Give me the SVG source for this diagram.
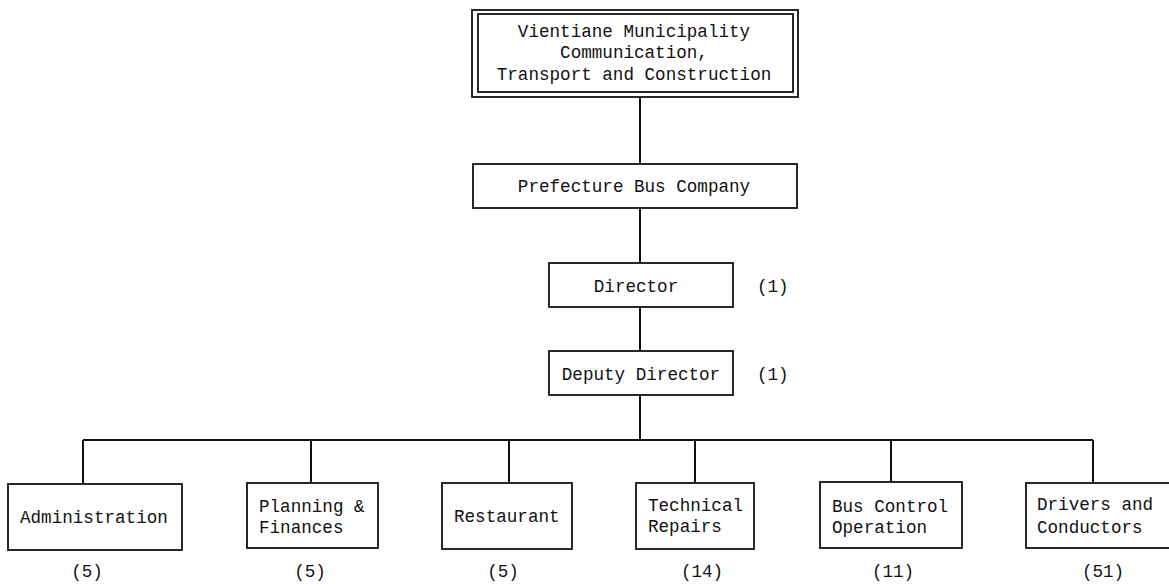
<svg xmlns="http://www.w3.org/2000/svg" width="1169" height="584" viewBox="0 0 1169 584">
<style>
.box{fill:#fff;stroke:#111;stroke-width:1.8}
.t{font-family:"Liberation Mono","Courier New",monospace;font-size:17.6px;fill:#111}
.m{text-anchor:middle}
.c{fill:none;stroke:#111;stroke-width:2}
</style>
<rect width="1169" height="584" fill="#fff"/>
<g id="connectors">
<line class="c" x1="640" y1="97" x2="640" y2="164"/>
<line class="c" x1="640" y1="208" x2="640" y2="263"/>
<line class="c" x1="640" y1="307" x2="640" y2="351"/>
<line class="c" x1="640" y1="395" x2="640" y2="440"/>
<line class="c" x1="83" y1="440" x2="1093" y2="440"/>
<line class="c" x1="83" y1="440" x2="83" y2="484"/>
<line class="c" x1="311" y1="440" x2="311" y2="483"/>
<line class="c" x1="509" y1="440" x2="509" y2="483"/>
<line class="c" x1="695" y1="440" x2="695" y2="483"/>
<line class="c" x1="891" y1="440" x2="891" y2="482"/>
<line class="c" x1="1093" y1="440" x2="1093" y2="483"/>
</g>
<g id="vientiane">
<rect class="box" x="472" y="10" width="326" height="87"/>
<rect class="box" x="478" y="14" width="315" height="78"/>
<text class="t m" x="634" y="37">Vientiane Municipality</text>
<text class="t m" x="634" y="58">Communication,</text>
<text class="t m" x="634" y="80">Transport and Construction</text>
</g>
<g id="prefecture">
<rect class="box" x="473" y="164" width="324" height="44"/>
<text class="t m" x="634" y="192">Prefecture Bus Company</text>
</g>
<g id="director">
<rect class="box" x="549" y="263" width="184" height="44"/>
<text class="t m" x="636" y="292">Director</text>
<text class="t" x="757" y="292">(1)</text>
</g>
<g id="deputy">
<rect class="box" x="549" y="351" width="184" height="44"/>
<text class="t m" x="641" y="380">Deputy Director</text>
<text class="t" x="757" y="380">(1)</text>
</g>
<g id="administration">
<rect class="box" x="8" y="484" width="174" height="66"/>
<text class="t" x="20" y="523">Administration</text>
<text class="t m" x="87" y="577">(5)</text>
</g>
<g id="planning">
<rect class="box" x="247" y="483" width="131" height="65"/>
<text class="t" x="259" y="512">Planning &amp;</text>
<text class="t" x="259" y="533">Finances</text>
<text class="t m" x="310" y="577">(5)</text>
</g>
<g id="restaurant">
<rect class="box" x="442" y="483" width="130" height="66"/>
<text class="t" x="454" y="522">Restaurant</text>
<text class="t m" x="503" y="577">(5)</text>
</g>
<g id="technical">
<rect class="box" x="636" y="483" width="118" height="66"/>
<text class="t" x="648" y="511">Technical</text>
<text class="t" x="648" y="532">Repairs</text>
<text class="t m" x="702" y="577">(14)</text>
</g>
<g id="buscontrol">
<rect class="box" x="820" y="482" width="142" height="66"/>
<text class="t" x="832" y="512">Bus Control</text>
<text class="t" x="832" y="533">Operation</text>
<text class="t m" x="893" y="577">(11)</text>
</g>
<g id="drivers">
<rect class="box" x="1026" y="483" width="150" height="65"/>
<text class="t" x="1037" y="510">Drivers and</text>
<text class="t" x="1037" y="533">Conductors</text>
<text class="t m" x="1103" y="577">(51)</text>
</g>
</svg>
